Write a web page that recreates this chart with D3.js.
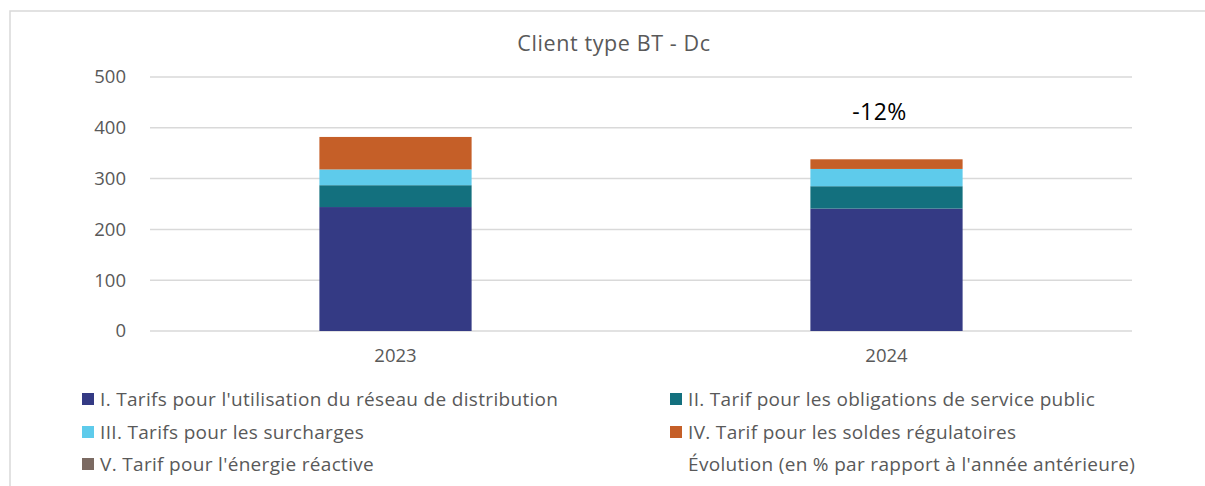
<!DOCTYPE html>
<html>
<head>
<meta charset="utf-8">
<script src="https://cdn.jsdelivr.net/npm/d3@7"></script>
<style>
  body { margin: 0; background: #fff; }
  svg text { font-family: "Open Sans", Lato, sans-serif; }
</style>
</head>
<body>
<svg id="chart" width="1205" height="486"></svg>
<script>
// données
const annees = ["2023", "2024"];
const series = [
  "I. Tarifs pour l'utilisation du réseau de distribution",
  "II. Tarif pour les obligations de service public",
  "III. Tarifs pour les surcharges",
  "IV. Tarif pour les soldes régulatoires",
  "V. Tarif pour l'énergie réactive"
];
const valeursI = [244, 241];
const valeursII = [43, 44];
const valeursIII = [31, 34];
const valeursIV = [64, 19];
const valeursV = [0, 0];
const evolution = [null, "-12%"];
const ticksY = [0, 100, 200, 300, 400, 500];
const couleurs = ["#343a84", "#13707e", "#5ecbeb", "#c55f28", "#7b6a62"];

const table = annees.map((a, i) => ({
  annee: a,
  s0: valeursI[i], s1: valeursII[i], s2: valeursIII[i], s3: valeursIV[i], s4: valeursV[i]
}));

const svg = d3.select("#chart");
const police = "'Open Sans', Lato, sans-serif";

// cadre du graphique
svg.append("rect")
  .attr("x", 10).attr("y", 11)
  .attr("width", 1300).attr("height", 600)
  .attr("fill", "none")
  .attr("stroke", "#d9d9d9")
  .attr("stroke-width", 1.5);

const x = d3.scaleBand().domain(annees).range([150, 1132]).paddingInner(0.69).paddingOuter(0.345);
const y = d3.scaleLinear().domain([0, 500]).range([331, 77]);

svg.append("text")
  .attr("x", 614).attr("y", 51)
  .attr("text-anchor", "middle")
  .attr("font-size", 21.5)
  .attr("letter-spacing", 0.6)
  .attr("fill", "#595959")
  .text("Client type BT - Dc");

// grille
svg.append("g")
  .selectAll("line")
  .data(ticksY)
  .join("line")
  .attr("x1", 150).attr("x2", 1132)
  .attr("y1", d => y(d)).attr("y2", d => y(d))
  .attr("stroke", "#d9d9d9")
  .attr("stroke-width", 1.5);

const axeY = svg.append("g")
  .attr("transform", "translate(150,0)")
  .call(d3.axisLeft(y).tickValues(ticksY).tickSize(0).tickPadding(24));
axeY.select(".domain").remove();
axeY.selectAll("text")
  .attr("font-size", 18.5)
  .attr("fill", "#595959")
  .style("font-family", police);

const axeX = svg.append("g")
  .attr("transform", "translate(0,331)")
  .call(d3.axisBottom(x).tickSize(0).tickPadding(18));
axeX.select(".domain").remove();
axeX.selectAll("text")
  .attr("font-size", 18.5)
  .attr("fill", "#595959")
  .style("font-family", police);

// barres empilées
const stack = d3.stack().keys(["s0", "s1", "s2", "s3", "s4"]);
const empil = stack(table);

svg.append("g")
  .selectAll("g")
  .data(empil)
  .join("g")
  .attr("fill", (d, i) => couleurs[i])
  .selectAll("rect")
  .data(d => d)
  .join("rect")
  .attr("x", d => x(d.data.annee))
  .attr("width", x.bandwidth())
  .attr("y", d => y(d[1]))
  .attr("height", d => y(d[0]) - y(d[1]));

// étiquette d'évolution
svg.append("g")
  .selectAll("text")
  .data(annees.map((a, i) => ({ a, e: evolution[i] })).filter(d => d.e))
  .join("text")
  .attr("x", d => x(d.a) + x.bandwidth() / 2)
  .attr("dx", -7)
  .attr("y", 120)
  .attr("text-anchor", "middle")
  .attr("font-size", 23)
  .attr("letter-spacing", 0.5)
  .attr("fill", "#000")
  .text(d => d.e);

// légende
const legende = [
  { nom: series[0], c: couleurs[0], x: 82, y: 399 },
  { nom: series[1], c: couleurs[1], x: 670, y: 399 },
  { nom: series[2], c: couleurs[2], x: 82, y: 432 },
  { nom: series[3], c: couleurs[3], x: 670, y: 432 },
  { nom: series[4], c: couleurs[4], x: 82, y: 464 },
  { nom: "Évolution (en % par rapport à l'année antérieure)", c: null, x: 670, y: 464 }
];
const lg = svg.append("g").selectAll("g").data(legende).join("g")
  .attr("transform", d => `translate(${d.x},${d.y})`);
lg.filter(d => d.c).append("rect")
  .attr("x", 0).attr("y", -6).attr("width", 12).attr("height", 12)
  .attr("fill", d => d.c);
lg.append("text")
  .attr("x", 18).attr("y", 0).attr("dy", "0.35em")
  .attr("font-size", 19)
  .attr("letter-spacing", 0.32)
  .attr("fill", "#595959")
  .text(d => d.nom);
</script>
</body>
</html>
